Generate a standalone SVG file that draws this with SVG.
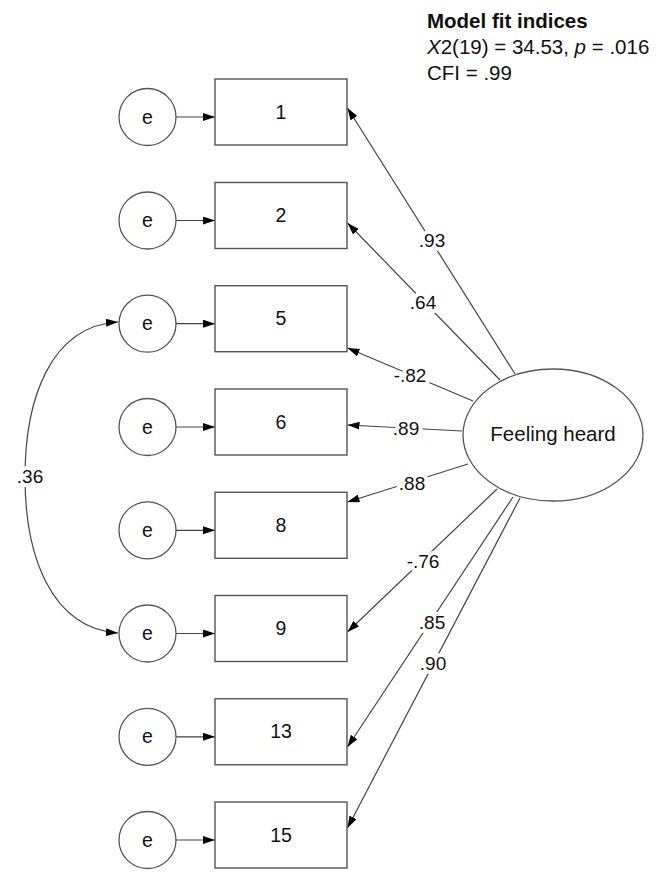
<svg xmlns="http://www.w3.org/2000/svg" width="666" height="874" viewBox="0 0 666 874">
<style>
text{font-family:"Liberation Sans",Arial,sans-serif;fill:#111}
.box{fill:#fff;stroke:#555;stroke-width:1.4}
.err{fill:#fff;stroke:#555;stroke-width:1.3}
.lat{fill:#fff;stroke:#555;stroke-width:1.3}
.c{stroke:#444;stroke-width:1.2;fill:none;marker-end:url(#ah)}
.nl{font-size:19.5px;text-anchor:middle}
.lbl{font-size:19px;text-anchor:middle;stroke:#fff;stroke-width:8px;paint-order:stroke;stroke-linejoin:round}
.fit{font-size:20.5px}
</style>
<defs>
<marker id="ah" viewBox="0 0 12 8" refX="12" refY="4" markerWidth="12" markerHeight="8" markerUnits="userSpaceOnUse" orient="auto-start-reverse">
<path d="M0,0 L12,4 L0,8 z" fill="#000"/>
</marker>
</defs>
<rect width="666" height="874" fill="#fff"/>

<g id="fit">
<text class="fit" x="427" y="28" font-weight="bold">Model fit indices</text>
<text class="fit" x="427" y="54"><tspan font-style="italic">X</tspan>2(19) = 34.53, <tspan font-style="italic">p</tspan> = .016</text>
<text class="fit" x="427" y="80">CFI = .99</text>
</g>

<g id="connectors">
<line class="c" x1="176" y1="117" x2="215" y2="117"/>
<line class="c" x1="176" y1="220.5" x2="215" y2="220.5"/>
<line class="c" x1="176" y1="323.7" x2="215" y2="323.7"/>
<line class="c" x1="176" y1="427" x2="215" y2="427"/>
<line class="c" x1="176" y1="530.3" x2="215" y2="530.3"/>
<line class="c" x1="176" y1="633.5" x2="215" y2="633.5"/>
<line class="c" x1="176" y1="736.8" x2="215" y2="736.8"/>
<line class="c" x1="176" y1="840" x2="215" y2="840"/>
<line class="c" x1="515" y1="374" x2="347.5" y2="108"/>
<line class="c" x1="500" y1="380" x2="347.5" y2="223"/>
<line class="c" x1="473" y1="401" x2="347.5" y2="348"/>
<line class="c" x1="462" y1="431" x2="347.5" y2="425"/>
<line class="c" x1="468" y1="464" x2="347.5" y2="502"/>
<line class="c" x1="497" y1="489" x2="347.5" y2="632"/>
<line class="c" x1="513" y1="497" x2="347.5" y2="747"/>
<line class="c" x1="520" y1="498" x2="347.5" y2="828"/>
<path class="c" style="marker-start:url(#ah)" d="M118,322 C50,326 25,400 25,477 C25,554 50,628 118,633"/>
<text class="lbl" x="432" y="247">.93</text>
<text class="lbl" x="423" y="309">.64</text>
<text class="lbl" x="410" y="382">-.82</text>
<text class="lbl" x="406" y="435">.89</text>
<text class="lbl" x="412" y="490">.88</text>
<text class="lbl" x="423" y="568">-.76</text>
<text class="lbl" x="432" y="629">.85</text>
<text class="lbl" x="433" y="670">.90</text>
<text class="lbl" x="30" y="483">.36</text>
</g>

<g id="e1"><circle class="err" cx="147.5" cy="117" r="28.5"/><text class="nl" x="147.5" y="123.5">e</text></g>
<g id="e2"><circle class="err" cx="147.5" cy="220.5" r="28.5"/><text class="nl" x="147.5" y="227">e</text></g>
<g id="e5"><circle class="err" cx="147.5" cy="323.7" r="28.5"/><text class="nl" x="147.5" y="330.2">e</text></g>
<g id="e6"><circle class="err" cx="147.5" cy="427" r="28.5"/><text class="nl" x="147.5" y="433.5">e</text></g>
<g id="e8"><circle class="err" cx="147.5" cy="530.3" r="28.5"/><text class="nl" x="147.5" y="536.8">e</text></g>
<g id="e9"><circle class="err" cx="147.5" cy="633.5" r="28.5"/><text class="nl" x="147.5" y="640">e</text></g>
<g id="e13"><circle class="err" cx="147.5" cy="736.8" r="28.5"/><text class="nl" x="147.5" y="743.3">e</text></g>
<g id="e15"><circle class="err" cx="147.5" cy="840" r="28.5"/><text class="nl" x="147.5" y="846.5">e</text></g>

<g id="i1"><rect class="box" x="215" y="79" width="132" height="66"/><text class="nl" x="281" y="118.5">1</text></g>
<g id="i2"><rect class="box" x="215" y="182.5" width="132" height="66"/><text class="nl" x="281" y="222">2</text></g>
<g id="i5"><rect class="box" x="215" y="285.7" width="132" height="66"/><text class="nl" x="281" y="325.2">5</text></g>
<g id="i6"><rect class="box" x="215" y="389" width="132" height="66"/><text class="nl" x="281" y="428.5">6</text></g>
<g id="i8"><rect class="box" x="215" y="492.3" width="132" height="66"/><text class="nl" x="281" y="531.8">8</text></g>
<g id="i9"><rect class="box" x="215" y="595.5" width="132" height="66"/><text class="nl" x="281" y="635">9</text></g>
<g id="i13"><rect class="box" x="215" y="698.8" width="132" height="66"/><text class="nl" x="281" y="738.3">13</text></g>
<g id="i15"><rect class="box" x="215" y="802" width="132" height="66"/><text class="nl" x="281" y="841.5">15</text></g>

<g id="feeling"><ellipse class="lat" cx="553" cy="435" rx="90" ry="66"/><text x="553" y="441" style="font-size:20.5px;text-anchor:middle">Feeling heard</text></g>
</svg>
